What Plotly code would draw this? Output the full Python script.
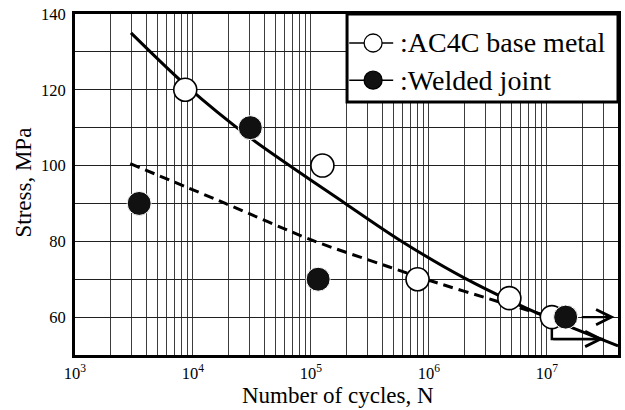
import math
import plotly.graph_objects as go

# ---- data ----
base_N = [8.6e3, 1.25e5, 8.0e5, 4.8e6, 1.1e7]
base_S = [120, 100, 70, 65, 60]

weld_N = [3.5e3, 3.06e4, 1.15e5, 1.44e7]
weld_S = [90, 110, 70, 60]

solid_N = [2.98e3, 8.61e3, 3.06e4, 1.95e5, 5.53e5, 1.95e6, 9.06e6, 4.0e7]
solid_S = [135.0, 121.3, 107.3, 90.0, 80.5, 70.5, 60.5, 52.4]

dash_N = [2.94e3, 1.88e4, 1.02e5, 4.55e5, 1.03e6, 3.77e6, 8.91e6]
dash_S = [100.5, 90.0, 80.3, 73.3, 69.6, 64.2, 60.8]

x_tick_vals = [1e3, 1e4, 1e5, 1e6, 1e7]
x_tick_text = ["10<sup>3</sup>", "10<sup>4</sup>", "10<sup>5</sup>", "10<sup>6</sup>", "10<sup>7</sup>"]

legend_labels = [":AC4C base metal", ":Welded joint"]
legend_fills = ["white", "#111111"]

x_title = "Number of cycles, N"
y_title = "Stress, MPa"

FONT = "Liberation Serif"
GRID = "#3c3c3c"

fig = go.Figure()

fig.add_trace(go.Scatter(x=solid_N, y=solid_S, mode="lines", showlegend=False,
                         line=dict(color="black", width=3, shape="spline", smoothing=0.8)))
fig.add_trace(go.Scatter(x=dash_N, y=dash_S, mode="lines", showlegend=False,
                         line=dict(color="black", width=3, dash="10px,6px", shape="spline", smoothing=0.8)))

# runout marker for the last base-metal point (bent arrow)
rN, rS = base_N[-1], base_S[-1]
fig.add_trace(go.Scatter(x=[rN, rN, rN * 2.75], y=[rS - 2.9, rS - 5.8, rS - 5.8], mode="lines",
                         showlegend=False, line=dict(color="black", width=2.5)))

fig.add_trace(go.Scatter(x=base_N, y=base_S, mode="markers", showlegend=False,
                         marker=dict(size=23, color="white", line=dict(color="black", width=1.6))))
fig.add_trace(go.Scatter(x=weld_N, y=weld_S, mode="markers", showlegend=False,
                         marker=dict(size=24, color="#111111", line=dict(color="white", width=1))))

wN, wS = weld_N[-1], weld_S[-1]
arrows = [
    (wN * 1.33, wS, wN * 2.6, wS),
    (rN, rS - 5.8, rN * 2.75, rS - 5.8),
]
for tx, ty, hx, hy in arrows:
    fig.add_annotation(x=math.log10(hx), y=hy, ax=math.log10(tx), ay=ty,
                       xref="x", yref="y", axref="x", ayref="y", text="",
                       showarrow=True, arrowhead=5, arrowsize=1.3, arrowwidth=2.3,
                       arrowcolor="black")

# ---- legend box (drawn in paper coordinates) ----
fig.add_shape(type="rect", xref="paper", yref="paper", x0=0.501, x1=1.0, y0=0.742, y1=1.0,
              line=dict(color="black", width=3), fillcolor="white", layer="above")
row_y = [0.915, 0.806]
for lab, fill, yy in zip(legend_labels, legend_fills, row_y):
    fig.add_shape(type="line", xref="paper", yref="paper", x0=0.505, x1=0.586, y0=yy, y1=yy,
                  line=dict(color="black", width=1.5), layer="above")
    fig.add_shape(type="circle", xref="paper", yref="paper", xsizemode="pixel", ysizemode="pixel",
                  xanchor=0.549, yanchor=yy, x0=-9, x1=9, y0=-9, y1=9,
                  line=dict(color="black", width=1.3), fillcolor=fill, layer="above")
    fig.add_annotation(x=0.594, y=yy, xref="paper", yref="paper", text=lab, showarrow=False,
                       xanchor="left", yanchor="middle",
                       font=dict(family=FONT, size=28, color="black"))

# axis titles
fig.add_annotation(x=0.484, y=-0.12, xref="paper", yref="paper", text=x_title, showarrow=False,
                   xanchor="center", yanchor="middle", font=dict(family=FONT, size=23, color="black"))
fig.add_annotation(x=-0.095, y=0.507, xref="paper", yref="paper", text=y_title, showarrow=False,
                   textangle=-90, xanchor="center", yanchor="middle",
                   font=dict(family=FONT, size=23, color="black"))

minor_x = [k * 10 ** e for e in range(3, 8) for k in range(2, 10)]

fig.update_layout(
    width=625, height=410,
    margin=dict(l=75, r=7, t=14, b=55, autoexpand=False),
    paper_bgcolor="white", plot_bgcolor="white",
    font=dict(family=FONT, color="black", size=16.5),
    showlegend=False,
    xaxis=dict(type="log", range=[3, math.log10(4e7)], automargin=False,
               tickvals=x_tick_vals, ticktext=x_tick_text,
               showgrid=True, gridcolor=GRID, gridwidth=1.3,
               minor=dict(tickvals=minor_x, showgrid=True, gridcolor=GRID, gridwidth=1.3, ticks=""),
               ticks="outside", ticklen=1, tickcolor="rgba(0,0,0,0)",
               showline=True, linecolor="black", linewidth=3, mirror=True,
               zeroline=False,
               tickfont=dict(family=FONT, size=16.5)),
    yaxis=dict(range=[50, 140], tick0=0, dtick=20, automargin=False,
               showgrid=True, gridcolor="#202020", gridwidth=1.3,
               minor=dict(dtick=10, showgrid=True, gridcolor="#202020", gridwidth=1.3, ticks=""),
               ticks="outside", ticklen=3, tickcolor="rgba(0,0,0,0)",
               showline=True, linecolor="black", linewidth=3, mirror=True,
               zeroline=False,
               tickfont=dict(family=FONT, size=16.5)),
)

fig.write_html("out.html", config={"displayModeBar": False},
               post_script="document.body.style.margin='0';document.body.style.overflow='hidden';")
